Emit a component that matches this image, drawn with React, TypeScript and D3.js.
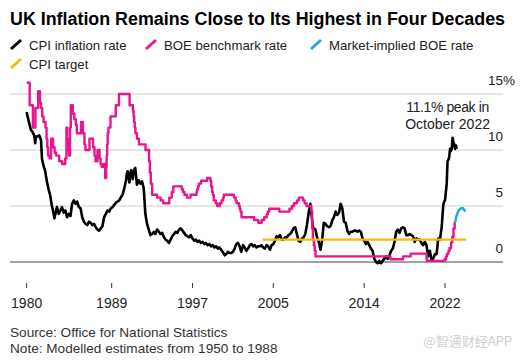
import React from 'react';
import * as d3 from 'd3';

// CPI inflation rate (% y/y), [decimal year, value]
const cpi: [number, number][] = [
  [1980.58, 13.4], [1980.67, 13.0], [1980.83, 12.4], [1981.0, 11.8], [1981.17, 11.6], [1981.33, 11.3],
  [1981.42, 10.6], [1981.5, 11.2], [1981.67, 11.2], [1981.83, 11.3], [1982.0, 10.9], [1982.1, 9.2],
  [1982.25, 8.6], [1982.42, 8.1], [1982.58, 7.2], [1982.75, 6.5], [1982.92, 5.9], [1983.08, 5.0],
  [1983.25, 4.3], [1983.33, 3.9], [1983.5, 4.6], [1983.58, 4.9], [1983.75, 4.3], [1983.92, 4.6],
  [1984.08, 4.9], [1984.25, 4.4], [1984.42, 4.6], [1984.58, 4.0], [1984.75, 4.3], [1984.92, 4.1],
  [1985.08, 5.2], [1985.25, 5.5], [1985.42, 5.2], [1985.58, 5.4], [1985.75, 4.9], [1985.92, 4.8],
  [1986.08, 4.0], [1986.25, 3.6], [1986.42, 3.4], [1986.58, 3.3], [1986.75, 3.6], [1986.92, 3.5],
  [1987.08, 3.3], [1987.25, 3.4], [1987.42, 3.1], [1987.58, 2.9], [1987.75, 2.8], [1987.92, 3.0],
  [1988.08, 3.2], [1988.25, 4.0], [1988.42, 4.3], [1988.58, 4.6], [1988.75, 4.5], [1988.92, 4.8],
  [1989.08, 4.9], [1989.25, 5.1], [1989.42, 5.3], [1989.58, 5.4], [1989.75, 5.5], [1989.92, 5.8],
  [1990.08, 6.0], [1990.25, 6.6], [1990.42, 7.3], [1990.5, 7.9], [1990.58, 8.1], [1990.67, 7.6],
  [1990.75, 7.1], [1990.83, 7.8], [1990.92, 8.2], [1991.0, 8.0], [1991.08, 7.4], [1991.17, 8.1],
  [1991.33, 8.4], [1991.42, 7.6], [1991.5, 6.9], [1991.67, 7.3], [1991.83, 7.0], [1992.0, 7.2],
  [1992.17, 6.6], [1992.25, 5.5], [1992.33, 4.3], [1992.5, 3.4], [1992.67, 2.9], [1992.83, 2.4],
  [1993.0, 2.5], [1993.17, 2.7], [1993.33, 2.5], [1993.5, 2.9], [1993.67, 2.7], [1993.83, 2.5],
  [1994.0, 2.6], [1994.17, 2.2], [1994.33, 2.0], [1994.5, 1.9], [1994.67, 1.7], [1994.83, 2.0],
  [1995.0, 2.3], [1995.17, 2.5], [1995.33, 2.7], [1995.5, 2.6], [1995.67, 2.9], [1995.83, 3.0],
  [1996.0, 2.8], [1996.17, 2.6], [1996.33, 2.4], [1996.5, 2.3], [1996.67, 2.2], [1996.83, 2.4],
  [1997.0, 2.1], [1997.17, 1.9], [1997.33, 2.0], [1997.5, 1.8], [1997.67, 1.9], [1997.83, 1.7],
  [1998.0, 1.8], [1998.17, 1.6], [1998.33, 1.7], [1998.5, 1.5], [1998.67, 1.6], [1998.83, 1.4],
  [1999.0, 1.5], [1999.17, 1.3], [1999.33, 1.4], [1999.5, 1.2], [1999.67, 1.3], [1999.83, 1.1],
  [2000.0, 0.9], [2000.17, 0.6], [2000.33, 0.7], [2000.5, 0.9], [2000.67, 0.8], [2000.83, 0.8],
  [2001.0, 0.9], [2001.17, 1.2], [2001.33, 1.6], [2001.5, 1.7], [2001.67, 1.4], [2001.83, 0.9],
  [2002.0, 1.5], [2002.17, 1.3], [2002.33, 1.0], [2002.5, 1.2], [2002.67, 1.5], [2002.83, 1.6],
  [2003.0, 1.4], [2003.17, 1.5], [2003.33, 1.3], [2003.5, 1.4], [2003.67, 1.4], [2003.83, 1.5],
  [2004.0, 1.3], [2004.17, 1.2], [2004.33, 1.5], [2004.5, 1.4], [2004.67, 1.1], [2004.83, 1.5],
  [2005.0, 1.6], [2005.17, 1.9], [2005.33, 2.3], [2005.5, 2.2], [2005.67, 2.4], [2005.83, 2.0],
  [2006.0, 2.0], [2006.17, 2.2], [2006.33, 2.2], [2006.5, 2.4], [2006.67, 2.5], [2006.83, 2.7],
  [2007.0, 3.0], [2007.17, 3.1], [2007.33, 2.5], [2007.5, 1.9], [2007.67, 1.8], [2007.83, 2.1],
  [2008.0, 2.2], [2008.17, 2.5], [2008.33, 3.3], [2008.5, 4.4], [2008.67, 5.2], [2008.75, 4.5],
  [2008.92, 3.1], [2009.0, 3.0], [2009.17, 2.9], [2009.33, 2.2], [2009.5, 1.8], [2009.67, 1.1],
  [2009.83, 1.9], [2010.0, 3.5], [2010.17, 3.4], [2010.33, 3.2], [2010.5, 3.1], [2010.67, 3.2],
  [2010.83, 3.7], [2011.0, 4.0], [2011.17, 4.5], [2011.33, 4.2], [2011.5, 4.4], [2011.67, 5.2],
  [2011.83, 4.8], [2012.0, 3.6], [2012.17, 3.5], [2012.33, 2.8], [2012.5, 2.5], [2012.67, 2.7],
  [2012.83, 2.7], [2013.0, 2.8], [2013.17, 2.8], [2013.33, 2.7], [2013.5, 2.8], [2013.67, 2.7],
  [2013.83, 2.1], [2014.0, 1.9], [2014.17, 1.6], [2014.33, 1.8], [2014.5, 1.5], [2014.67, 1.2],
  [2014.83, 1.0], [2015.0, 0.3], [2015.17, 0.0], [2015.33, -0.1], [2015.5, 0.1], [2015.67, -0.1],
  [2015.83, 0.1], [2016.0, 0.3], [2016.17, 0.5], [2016.33, 0.3], [2016.5, 0.6], [2016.67, 1.0],
  [2016.83, 1.2], [2017.0, 1.8], [2017.17, 2.7], [2017.33, 2.9], [2017.5, 2.6], [2017.67, 3.0],
  [2017.83, 3.1], [2018.0, 3.0], [2018.17, 2.4], [2018.33, 2.4], [2018.5, 2.5], [2018.67, 2.4],
  [2018.83, 2.3], [2019.0, 1.8], [2019.17, 2.1], [2019.33, 2.0], [2019.5, 2.0], [2019.67, 1.7],
  [2019.83, 1.5], [2020.0, 1.8], [2020.17, 1.5], [2020.33, 0.5], [2020.5, 1.0], [2020.67, 0.2],
  [2020.83, 0.3], [2021.0, 0.7], [2021.17, 0.7], [2021.33, 2.1], [2021.5, 2.0], [2021.67, 3.1],
  [2021.83, 5.1], [2021.92, 5.4], [2022.0, 5.5], [2022.17, 7.0], [2022.25, 9.0], [2022.33, 9.1],
  [2022.42, 9.4], [2022.5, 10.1], [2022.58, 9.9], [2022.67, 10.1], [2022.75, 11.1], [2022.83, 10.7],
  [2022.92, 10.5], [2023.0, 10.1], [2023.08, 10.4], [2023.17, 10.1],
];

// BOE benchmark rate (%), value holds from the given decimal year
const boe: [number, number][] = [
  [1980.58, 16], [1980.88, 14], [1981.2, 12], [1981.45, 13.75], [1981.72, 15.25], [1981.9, 14.25],
  [1982.0, 13.75], [1982.12, 13], [1982.25, 12.5], [1982.45, 12], [1982.55, 11], [1982.62, 10.25],
  [1982.7, 9.5], [1982.85, 9.25], [1983.0, 11], [1983.2, 10.25], [1983.35, 9.75], [1983.5, 9.5],
  [1983.8, 9], [1984.1, 8.75], [1984.4, 9.25], [1984.52, 12], [1984.6, 11], [1984.68, 10], [1984.78, 9.5],
  [1984.88, 12], [1984.95, 14], [1985.15, 13.25], [1985.3, 12.75], [1985.45, 12.25], [1985.55, 11.5],
  [1985.97, 12.5], [1986.15, 11.5], [1986.3, 10.5], [1986.4, 10], [1986.8, 11], [1987.15, 10.25],
  [1987.3, 9.5], [1987.4, 9], [1987.6, 10], [1987.8, 9.25], [1987.9, 8.75], [1988.0, 8.5],
  [1988.15, 8.75], [1988.35, 7.5], [1988.45, 8.5], [1988.5, 9.5], [1988.55, 10.5], [1988.6, 11.5],
  [1988.68, 12], [1988.88, 13], [1989.4, 14], [1989.72, 15], [1990.77, 14], [1991.1, 13.5],
  [1991.17, 13], [1991.23, 12.5], [1991.28, 12], [1991.35, 11.5], [1991.5, 11], [1991.7, 10.5],
  [1992.35, 10], [1992.7, 9], [1992.78, 8], [1992.87, 7], [1993.0, 6], [1993.5, 5.75], [1993.85, 5.5],
  [1994.1, 5.25], [1994.7, 5.75], [1994.95, 6.25], [1995.1, 6.75], [1995.95, 6.5], [1996.05, 6.25],
  [1996.2, 6], [1996.45, 5.75], [1996.8, 6], [1997.4, 6.25], [1997.45, 6.5], [1997.55, 6.75],
  [1997.62, 7], [1997.85, 7.25], [1998.45, 7.5], [1998.77, 7.25], [1998.85, 6.75], [1998.95, 6.25],
  [1999.02, 6], [1999.1, 5.5], [1999.3, 5.25], [1999.45, 5], [1999.7, 5.25], [1999.87, 5.5],
  [2000.03, 5.75], [2000.1, 6], [2001.1, 5.75], [2001.27, 5.5], [2001.37, 5.25], [2001.6, 5],
  [2001.68, 4.75], [2001.75, 4.5], [2001.85, 4], [2003.1, 3.75], [2003.52, 3.5], [2003.85, 3.75],
  [2004.1, 4], [2004.35, 4.25], [2004.45, 4.5], [2004.6, 4.75], [2005.6, 4.5], [2006.6, 4.75],
  [2006.85, 5], [2007.05, 5.25], [2007.35, 5.5], [2007.52, 5.75], [2007.95, 5.5], [2008.1, 5.25],
  [2008.28, 5], [2008.77, 4.5], [2008.85, 3], [2008.92, 2], [2009.02, 1.5], [2009.1, 1],
  [2009.18, 0.5], [2016.6, 0.25], [2017.85, 0.5], [2018.6, 0.75], [2020.18, 0.25], [2020.22, 0.1],
  [2021.96, 0.25], [2022.1, 0.5], [2022.2, 0.75], [2022.35, 1], [2022.45, 1.25], [2022.6, 1.75],
  [2022.72, 2.25], [2022.84, 3], [2022.96, 3.5], [2023.0, 3.5],
];

// Market-implied BOE rate (%)
const marketBoe: [number, number][] = [
  [2023.0, 3.5], [2023.1, 4.0], [2023.25, 4.4], [2023.4, 4.65], [2023.6, 4.8], [2023.8, 4.8], [2024.0, 4.5],
];

// CPI target (%)
const cpiTarget: [number, number][] = [[2003.95, 2], [2024.1, 2]];

const yTicks = [0, 5, 10, 15];
const xTickYears = [1980.58, 1989, 1997, 2005, 2014, 2022];
const xTickLabels = ['1980', '1989', '1997', '2005', '2014', '2022'];
const peakLabel = ['11.1% peak in', 'October 2022'];

const legendRow1 = [
  { label: 'CPI inflation rate', color: '#000000', x: 10 },
  { label: 'BOE benchmark rate', color: '#e8168c', x: 145 },
  { label: 'Market-implied BOE rate', color: '#1ea8e0', x: 310 },
];
const legendRow2 = [{ label: 'CPI target', color: '#f7b90f', x: 10 }];

const FONT = '"Liberation Sans", Arial, Helvetica, sans-serif';

export default function App() {
  const W = 529;
  const H = 360;
  const x = d3.scaleLinear().domain([1989, 2022]).range([111.7, 445]);
  const y = d3.scaleLinear().domain([0, 15]).range([262, 94]);
  const gridX0 = 10;
  const gridX1 = 503;

  const line = d3
    .line<[number, number]>()
    .x((d) => x(d[0]))
    .y((d) => y(d[1]));
  const stepLine = d3
    .line<[number, number]>()
    .x((d) => x(d[0]))
    .y((d) => y(d[1]))
    .curve(d3.curveStepAfter);

  const recent = cpi.filter((d) => d[0] >= 2022);
  const peak = recent.reduce((a, b) => (b[1] > a[1] ? b : a), recent[0]);
  const annX = x(peak[0]) - 5;

  return (
    <svg
      width={W}
      height={H}
      style={{ position: 'absolute', left: 0, top: 0, background: '#fff' }}
      fontFamily={FONT}
    >
      <rect x={0} y={0} width={W} height={H} fill="#fff" />
      <text x={10} y={25} fontSize={17.5} fontWeight="bold" fill="#000" textLength={495} lengthAdjust="spacingAndGlyphs">
        UK Inflation Remains Close to Its Highest in Four Decades
      </text>

      {[...legendRow1.map((d) => ({ ...d, row: 0 })), ...legendRow2.map((d) => ({ ...d, row: 1 }))].map((d) => {
        const base = d.row === 0 ? 50 : 69;
        return (
          <g key={d.label}>
            <line x1={d.x + 1} y1={base - 1} x2={d.x + 11} y2={base - 10} stroke={d.color} strokeWidth={3} />
            <text x={d.x + 19} y={base} fontSize={13.2} fill="#222">
              {d.label}
            </text>
          </g>
        );
      })}

      {yTicks.map((t) => (
        <g key={t}>
          <line
            x1={gridX0}
            x2={gridX1}
            y1={y(t)}
            y2={y(t)}
            stroke={t === 0 ? '#444' : '#dedede'}
            strokeWidth={t === 0 ? 1.2 : 1.4}
          />
          <text x={gridX1} y={y(t) - 9} fontSize={13.5} fill="#222" textAnchor="end">
            {t}
          </text>
          {t === 15 && (
            <text x={gridX1} y={y(t) - 9} fontSize={13.5} fill="#222">
              %
            </text>
          )}
        </g>
      ))}

      {xTickYears.map((t, i) => (
        <g key={xTickLabels[i]}>
          <line x1={x(t)} x2={x(t)} y1={283} y2={288} stroke="#333" strokeWidth={1} />
          <text x={x(t)} y={308} fontSize={14} fill="#222" textAnchor="middle">
            {xTickLabels[i]}
          </text>
        </g>
      ))}

      <path d={line(cpi) || ''} fill="none" stroke="#000" strokeWidth={2.6} strokeLinejoin="round" />
      <path d={stepLine(boe) || ''} fill="none" stroke="#e8168c" strokeWidth={2.4} strokeLinejoin="round" />
      <path d={line(marketBoe) || ''} fill="none" stroke="#1ea8e0" strokeWidth={2.4} strokeLinejoin="round" />
      <path d={line(cpiTarget) || ''} fill="none" stroke="#f7b90f" strokeWidth={2.2} />

      <text x={annX} y={112} fontSize={14} fill="#222" textAnchor="middle" letterSpacing={-0.4}>
        {peakLabel[0]}
      </text>
      <text x={annX} y={128.5} fontSize={14} fill="#222" textAnchor="middle">
        {peakLabel[1]}
      </text>

      <text x={10} y={337} fontSize={13.6} fill="#333">
        Source: Office for National Statistics
      </text>
      <text x={10} y={352.5} fontSize={13.6} fill="#333">
        Note: Modelled estimates from 1950 to 1988
      </text>
      <text x={512} y={346} fontSize={13} fill="#cfcfcf" textAnchor="end" fontFamily='"Noto Sans CJK SC", sans-serif'>
        @智通财经APP
      </text>
    </svg>
  );
}
